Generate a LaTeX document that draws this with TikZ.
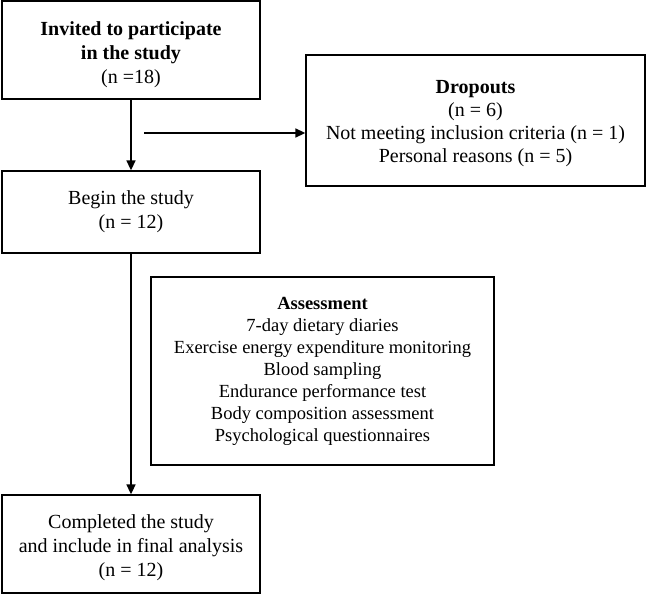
\documentclass[tikz,border=0pt]{standalone}
\usepackage{fontspec}
\setmainfont{Liberation Serif}
\usepackage{tikz}
\usetikzlibrary{calc,positioning,arrows.meta}

\begin{document}
\begin{tikzpicture}[x=1pt, y=-1pt]
  \useasboundingbox (0,0) rectangle (646,594);

  % ---- Styles ----------------------------------------------------
  \tikzstyle{box}=[draw, line width=1.3pt, align=center, inner sep=0pt,
                   font=\fontsize{20}{24}\selectfont]
  \tikzstyle{flow}=[line width=1.6pt, -{Triangle[length=10pt, width=9pt]}]

  % ---- Boxes (centres in picture units) --------------------------
  % (a strut in the first line pushes the text a little lower)
  \node[box, minimum width=258pt, minimum height=98pt] (invited) at (131, 50)
    {\rule{0pt}{24pt}\textbf{Invited to participate}\\ \textbf{in the study}\\ (n =18)};
  \node[box, minimum width=258pt, minimum height=82pt] (begin) at (131, 212)
    {Begin the study\\ (n = 12)};
  \node[box, minimum width=339pt, minimum height=131pt,
        font=\fontsize{20}{23}\selectfont] (dropouts) at (475.5, 120.5)
    {\rule{0pt}{19pt}\textbf{Dropouts}\\ (n = 6)\\ Not meeting inclusion criteria (n = 1)\\
     Personal reasons (n = 5)};
  \node[box, minimum width=343pt, minimum height=188pt,
        font=\fontsize{18.5}{22}\selectfont] (assess) at (322.5, 371)
    {\textbf{Assessment}\\ 7-day dietary diaries\\
     Exercise energy expenditure monitoring\\ Blood sampling\\
     Endurance performance test\\ Body composition assessment\\
     Psychological questionnaires};
  \node[box, minimum width=258pt, minimum height=98pt] (completed) at (131, 544)
    {\rule{0pt}{21pt}Completed the study\\ and include in final analysis\\ (n = 12)};

  % ---- Connectors ------------------------------------------------
  \coordinate (split) at (144, 133);
  \draw[flow] (invited) -- (begin);
  \draw[flow] (split) -- (split -| dropouts.west);
  \draw[flow] (begin) -- (completed);

\end{tikzpicture}
\end{document}
